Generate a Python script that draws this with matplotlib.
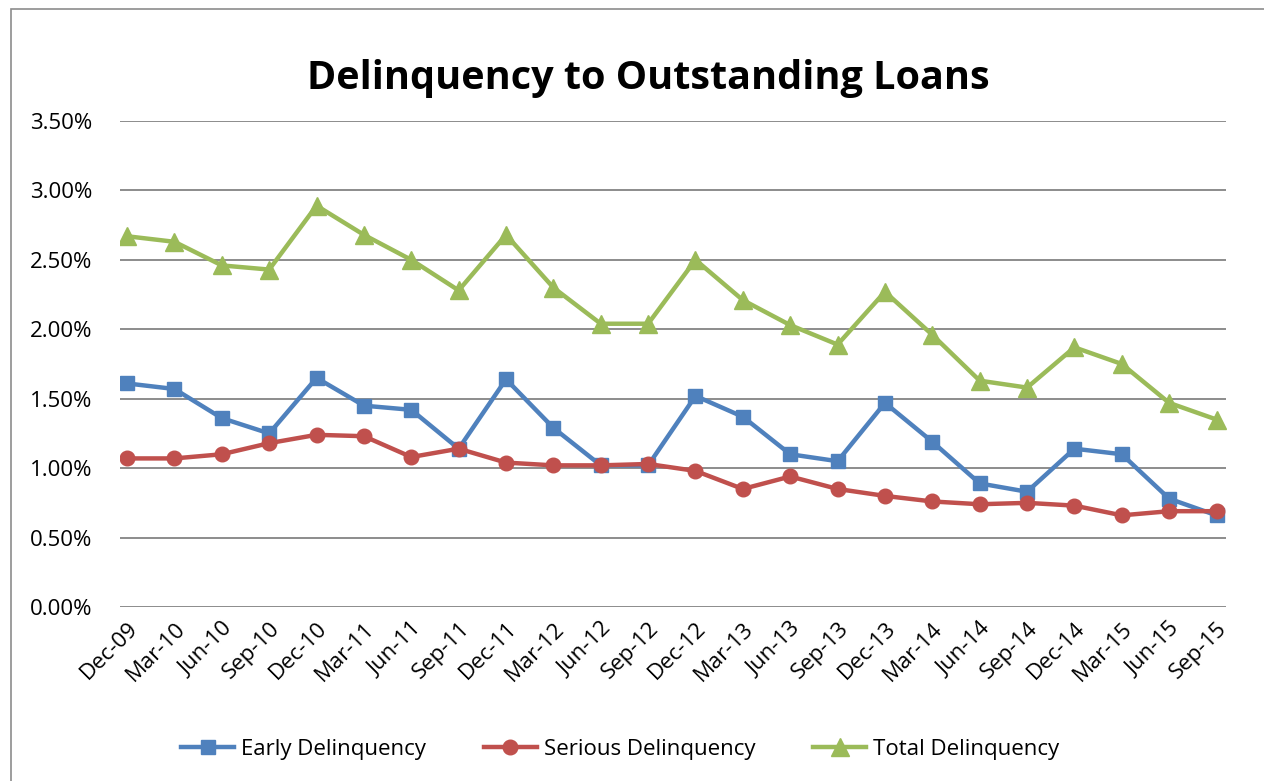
import matplotlib.pyplot as plt
from matplotlib.patches import Rectangle
from matplotlib.ticker import FuncFormatter

quarters = ['Dec-09', 'Mar-10', 'Jun-10', 'Sep-10', 'Dec-10', 'Mar-11', 'Jun-11', 'Sep-11',
            'Dec-11', 'Mar-12', 'Jun-12', 'Sep-12', 'Dec-12', 'Mar-13', 'Jun-13', 'Sep-13',
            'Dec-13', 'Mar-14', 'Jun-14', 'Sep-14', 'Dec-14', 'Mar-15', 'Jun-15', 'Sep-15']

# values in percent
early = [1.61, 1.57, 1.36, 1.25, 1.65, 1.45, 1.42, 1.14, 1.64, 1.29, 1.02, 1.02,
         1.52, 1.37, 1.10, 1.05, 1.47, 1.19, 0.89, 0.83, 1.14, 1.10, 0.78, 0.66]
serious = [1.07, 1.07, 1.10, 1.18, 1.24, 1.23, 1.08, 1.14, 1.04, 1.02, 1.02, 1.03,
           0.98, 0.85, 0.94, 0.85, 0.80, 0.76, 0.74, 0.75, 0.73, 0.66, 0.69, 0.69]
total = [2.67, 2.63, 2.46, 2.43, 2.89, 2.68, 2.50, 2.28, 2.68, 2.30, 2.04, 2.04,
         2.50, 2.21, 2.03, 1.89, 2.27, 1.96, 1.63, 1.58, 1.87, 1.75, 1.47, 1.35]

plt.rcParams['font.family'] = ['Open Sans', 'DejaVu Sans']

fig = plt.figure(figsize=(12.64, 7.81), dpi=100)
ax = fig.add_axes([120 / 1264, 1 - 607 / 781, 1106 / 1264, 486 / 781])

# outer chart border
fig.patches.append(Rectangle((11 / 1264, -0.01), 1.0, 1 - 9 / 781 + 0.01, transform=fig.transFigure,
                             fill=False, edgecolor='#8c8c8c', linewidth=1.2))

x = list(range(len(quarters)))
ax.plot(x, early, color='#4F81BD', linewidth=3.2, marker='s', markersize=10, label='Early Delinquency', zorder=3)
ax.plot(x, serious, color='#C0504D', linewidth=3.2, marker='o', markersize=10.5, label='Serious Delinquency', zorder=3)
ax.plot(x, total, color='#9BBB59', linewidth=3.2, marker='^', markersize=13, label='Total Delinquency', zorder=3)

ax.set_ylim(0, 3.5)
ax.set_yticks([0, 0.5, 1.0, 1.5, 2.0, 2.5, 3.0, 3.5])
ax.yaxis.set_major_formatter(FuncFormatter(lambda v, p: f'{v:.2f}%'))
ax.set_xlim(-0.15, 23.2)
ax.set_xticks(x)
ax.set_xticklabels(quarters, rotation=45, ha='right', rotation_mode='anchor')
ax.tick_params(axis='both', length=0, labelsize=16)
ax.tick_params(axis='y', pad=20)
ax.tick_params(axis='x', pad=8)
ax.grid(axis='y', color='#8c8c8c', linewidth=1.4)
ax.set_axisbelow(True)
for s in ax.spines.values():
    s.set_visible(False)

fig.text(648 / 1264, 1 - 78 / 781, 'Delinquency to Outstanding Loans', ha='center', va='center',
         fontsize=28.5, fontweight='bold')

fig.legend(loc='center', bbox_to_anchor=(620 / 1264, 1 - 749 / 781), ncol=3, frameon=False,
           fontsize=16, handlelength=2.4, columnspacing=2.6, handletextpad=0.3)

fig.savefig('out.png', dpi=100)
